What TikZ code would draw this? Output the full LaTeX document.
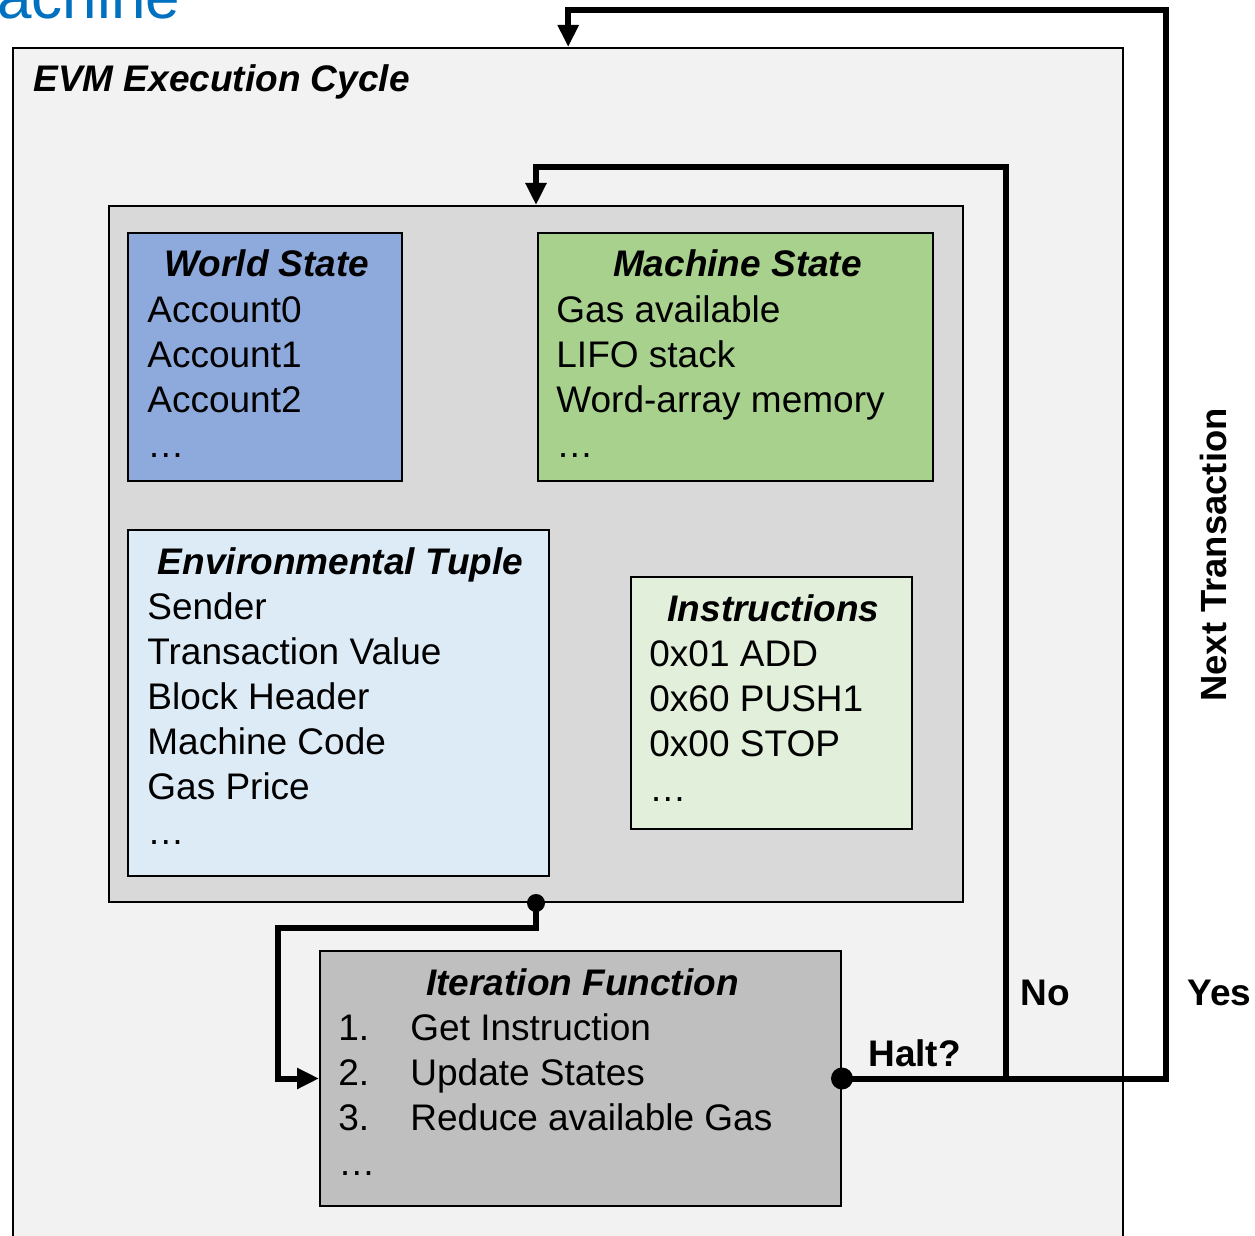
\documentclass[tikz,border=0pt]{standalone}
\usepackage{fontspec}
\setmainfont{Liberation Sans}
\usetikzlibrary{calc,arrows.meta}
\definecolor{cyclegray}{HTML}{F2F2F2}
\definecolor{coregray}{HTML}{D9D9D9}
\definecolor{itergray}{HTML}{BFBFBF}
\definecolor{worldblue}{HTML}{8EA9DB}
\definecolor{machinegreen}{HTML}{A9D18E}
\definecolor{envblue}{HTML}{DDEBF7}
\definecolor{instrgreen}{HTML}{E2EFDA}
\definecolor{headblue}{HTML}{0070C0}
\def\drawflow{\draw[flow]}
\def\boxnode{\node[statebox]}

\begin{document}
\begin{tikzpicture}[x=0.5pt,y=-0.5pt,
  statebox/.style={draw=black, line width=1pt, anchor=north west, inner sep=0pt},
  boxtitle/.style={anchor=base, inner sep=0pt, font=\fontsize{18.5pt}{22.5pt}\selectfont\bfseries\itshape},
  boxline/.style={anchor=base west, inner sep=0pt, font=\fontsize{18.5pt}{22.5pt}\selectfont},
  flowlabel/.style={anchor=base west, inner sep=0pt, font=\fontsize{18.5pt}{22.5pt}\selectfont\bfseries},
  flow/.style={line width=3pt, line join=miter, -{Triangle[length=11pt,width=10pt]}}]
\clip (0,0) rectangle (1255,1236);
\node[anchor=base west, inner sep=0pt, text=headblue, font=\fontsize{31pt}{36pt}\selectfont] (machinehead) at (-3,19) {achine};

% frames
\boxnode[fill=cyclegray, line width=1.2pt, minimum width=555pt, minimum height=610pt] (cycle) at (12,47) {};
\node[boxtitle, anchor=base west] (cycletitle) at ($(cycle.north west)+(21,45)$) {EVM Execution Cycle};
\boxnode[fill=coregray, minimum width=427pt, minimum height=348pt] (core) at (108,205) {};

% state boxes
\boxnode[fill=worldblue, minimum width=137pt, minimum height=124pt] (world) at (127,232) {};
\node[boxtitle] (worldtitle) at ($(world.north)+(2,45)$) {World State};
\foreach \t [count=\i] in {Account0, Account1, Account2, …}
  \node[boxline] (world-\i) at ($(world.north west)+(20,45+45*\i)$) {\t};

\boxnode[fill=machinegreen, minimum width=197.5pt, minimum height=124pt] (machine) at (537,232) {};
\node[boxtitle] (machinetitle) at ($(machine.north)+(2,45)$) {Machine State};
\foreach \t [count=\i] in {Gas available, LIFO stack, Word-array memory, …}
  \node[boxline] (machine-\i) at ($(machine.north west)+(19,45+45*\i)$) {\t};

\boxnode[fill=envblue, minimum width=210.5pt, minimum height=173pt] (env) at (127,529) {};
\node[boxtitle] (envtitle) at ($(env.north)+(2,45)$) {Environmental Tuple};
\foreach \t [count=\i] in {Sender, Transaction Value, Block Header, Machine Code, Gas Price, …}
  \node[boxline] (env-\i) at ($(env.north west)+(20,45+45*\i)$) {\t};

\boxnode[fill=instrgreen, minimum width=140.5pt, minimum height=126pt] (instr) at (630,576) {};
\node[boxtitle] (instrtitle) at ($(instr.north)+(2,45)$) {Instructions};
\foreach \t [count=\i] in {0x01 ADD, 0x60 PUSH1, 0x00 STOP, …}
  \node[boxline] (instr-\i) at ($(instr.north west)+(19,45+45*\i)$) {\t};

% iteration
\boxnode[fill=itergray, minimum width=260.5pt, minimum height=127.5pt] (iter) at (319,950) {};
\node[boxtitle] (itertitle) at ($(iter.north)+(2,45)$) {Iteration Function};
\foreach \n/\t [count=\i] in {1./Get Instruction, 2./Update States, 3./Reduce available Gas} {
  \node[boxline] (iter-n\i) at ($(iter.north west)+(19,45+45*\i)$) {\n};
  \node[boxline] (iter-t\i) at ($(iter.north west)+(91,45+45*\i)$) {\t};
}
\node[boxline] (iter-4) at ($(iter.north west)+(19,225)$) {…};

% connectors
\coordinate (nobranch) at ($(iter.east)+(164,0)$);
\coordinate (yesbranch) at ($(iter.east)+(324,0)$);
\drawflow (core.south) -- ++(0,25) -| ($(iter.west)+(-41,0)$) -- (iter.west);
\drawflow (iter.east) -- (yesbranch) |- ($(cycle.north)+(0,-37)$) -- (cycle.north);
\drawflow (nobranch) |- ($(core.north)+(0,-38)$) -- (core.north);
\fill (core.south) circle[radius=4.5pt];
\fill (iter.east) circle[radius=5.5pt];

\node[flowlabel] (haltlabel) at (868,1066) {Halt?};
\node[flowlabel] (nolabel) at (1020,1005) {No};
\node[flowlabel] (yeslabel) at (1187,1005) {Yes};
\node[flowlabel, anchor=center, rotate=90, font=\fontsize{18.2pt}{21pt}\selectfont\bfseries] (nextlabel) at (1213,555) {Next Transaction};
\end{tikzpicture}
\end{document}
